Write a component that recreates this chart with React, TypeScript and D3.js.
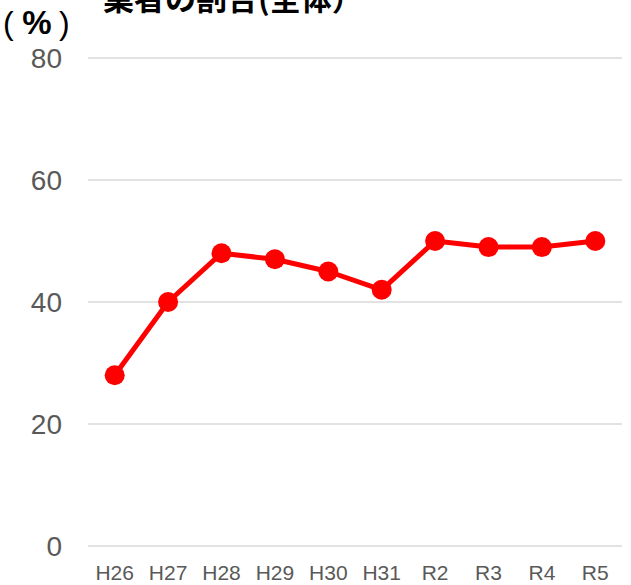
import React, { useEffect, useRef } from "react";
import * as d3 from "d3";

const years = ["H26", "H27", "H28", "H29", "H30", "H31", "R2", "R3", "R4", "R5"];
const shares = [28, 40, 48, 47, 45, 42, 50, 49, 49, 50];
const yTicks = [0, 20, 40, 60, 80];

const App: React.FC = () => {
  const ref = useRef<SVGSVGElement>(null);

  useEffect(() => {
    const width = 631;
    const height = 585;
    const svg = d3.select(ref.current);
    svg.selectAll("*").remove();

    const x = d3.scaleBand().domain(years).range([88, 622]);
    const y = d3.scaleLinear().domain([0, 80]).range([546, 58]);

    // グリッド線
    svg.append("g")
      .selectAll("line")
      .data(yTicks)
      .join("line")
      .attr("x1", 88)
      .attr("x2", 622)
      .attr("y1", d => y(d))
      .attr("y2", d => y(d))
      .attr("stroke", "#d9d9d9")
      .attr("stroke-width", 1.5);

    // y軸ラベル
    svg.append("g")
      .selectAll("text")
      .data(yTicks)
      .join("text")
      .attr("x", 62)
      .attr("y", d => y(d) + 10)
      .attr("text-anchor", "end")
      .attr("font-family", "'Liberation Sans', Arial, sans-serif")
      .attr("font-size", 28)
      .attr("fill", "#595959")
      .text(d => d);

    // x軸ラベル
    svg.append("g")
      .selectAll("text")
      .data(years)
      .join("text")
      .attr("x", d => (x(d) ?? 0) + x.bandwidth() / 2)
      .attr("y", 580)
      .attr("text-anchor", "middle")
      .attr("font-family", "'Liberation Sans', Arial, sans-serif")
      .attr("font-size", 21)
      .attr("fill", "#595959")
      .text(d => d);

    const line = d3.line<number>()
      .x((_, i) => (x(years[i]) ?? 0) + x.bandwidth() / 2)
      .y(d => y(d));

    svg.append("path")
      .datum(shares)
      .attr("fill", "none")
      .attr("stroke", "#ff0000")
      .attr("stroke-width", 5)
      .attr("stroke-linejoin", "round")
      .attr("d", line);

    svg.append("g")
      .selectAll("circle")
      .data(shares)
      .join("circle")
      .attr("cx", (_, i) => (x(years[i]) ?? 0) + x.bandwidth() / 2)
      .attr("cy", d => y(d))
      .attr("r", 10)
      .attr("fill", "#ff0000");

    // タイトル（上部が切れている）
    svg.append("text")
      .attr("x", 103)
      .attr("y", 10)
      .attr("font-family", "'Noto Sans CJK JP', sans-serif")
      .attr("font-weight", "bold")
      .attr("font-size", 31)
      .attr("fill", "#000")
      .text("業者の割合(全体）");

    // 単位 (%)
    const unit = svg.append("g").attr("fill", "#000");
    unit.append("text")
      .attr("x", 3)
      .attr("y", 34)
      .attr("font-family", "'Liberation Sans', Arial, sans-serif")
      .attr("font-size", 32)
      .text("(");
    unit.append("text")
      .attr("x", 37)
      .attr("y", 34)
      .attr("text-anchor", "middle")
      .attr("font-family", "'Liberation Sans', Arial, sans-serif")
      .attr("font-weight", "bold")
      .attr("font-size", 33)
      .text("%");
    unit.append("text")
      .attr("x", 59)
      .attr("y", 34)
      .attr("font-family", "'Liberation Sans', Arial, sans-serif")
      .attr("font-size", 32)
      .text(")");

    svg.attr("width", width).attr("height", height);
  }, []);

  return <svg ref={ref} style={{ position: "absolute", left: 0, top: 0 }} />;
};

export default App;
